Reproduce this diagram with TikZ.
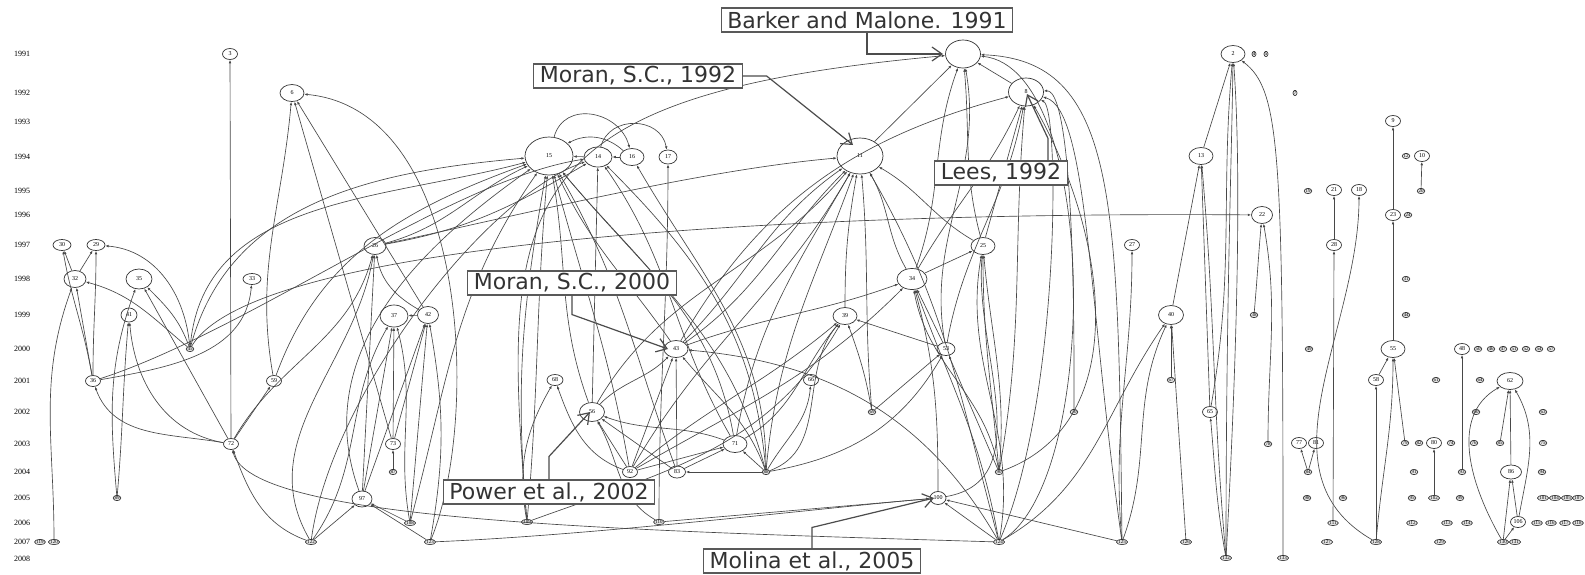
\documentclass[tikz,border=0pt]{standalone}
\usepackage{fontspec}
\setmainfont{Liberation Serif}
\newfontfamily\notefont{DejaVu Sans}
\usetikzlibrary{shapes.geometric,arrows.meta}
\tikzset{
  paper/.style={draw=black!80, ellipse, fill=white, inner sep=0pt, line width=0.7pt, font=\fontsize{6}{6}\selectfont},
  big/.style={paper, minimum width=46pt, minimum height=36pt},
  large/.style={paper, minimum width=35pt, minimum height=28pt},
  mid/.style={paper, minimum width=24pt, minimum height=17pt},
  small/.style={paper, minimum width=15pt, minimum height=11pt},
  dot/.style={draw=black!85, ellipse, fill=black!10, inner sep=0.2pt, line width=0.6pt, font=\fontsize{5}{5}\selectfont},
  yr/.style={font=\fontsize{8}{8}\selectfont},
  cite/.style={draw=black!72, line width=0.65pt, -{Latex[length=3.4pt,width=2.6pt]}},
  note/.style={draw=black!65, line width=1.1pt, fill=white, inner xsep=6pt, inner ysep=1pt, minimum height=24pt, text=black!80, font=\notefont\fontsize{22}{22}\selectfont},
  pointer/.style={draw=black!70, line width=1.2pt, -{Straight Barb[length=10pt,width=14pt]}}
}
\begin{document}
\begin{tikzpicture}[x=1pt,y=1pt]
\useasboundingbox (0,0) rectangle (1585,-574);
\fill[white] (0,0) rectangle (1585,-574);
% years
\node[yr] (y1991) at (22,-54) {1991};
\node[yr] (y1992) at (22,-93) {1992};
\node[yr] (y1993) at (22,-122) {1993};
\node[yr] (y1994) at (22,-157) {1994};
\node[yr] (y1995) at (22,-191) {1995};
\node[yr] (y1996) at (22,-215) {1996};
\node[yr] (y1997) at (22,-245) {1997};
\node[yr] (y1998) at (22,-279) {1998};
\node[yr] (y1999) at (22,-315) {1999};
\node[yr] (y2000) at (22,-349) {2000};
\node[yr] (y2001) at (22,-381) {2001};
\node[yr] (y2002) at (22,-412) {2002};
\node[yr] (y2003) at (22,-444) {2003};
\node[yr] (y2004) at (22,-472) {2004};
\node[yr] (y2005) at (22,-498) {2005};
\node[yr] (y2006) at (22,-523) {2006};
\node[yr] (y2007) at (22,-542) {2007};
\node[yr] (y2008) at (22,-559) {2008};
% papers
\node[large] (n1) at (963,-54) {};
\node[mid] (n2) at (1233,-54) {2};
\node[small] (n3) at (230,-54) {3};
\node[mid] (n6) at (292,-93) {6};
\node[large] (n8) at (1026,-92) {8};
\node[small] (n9) at (1393,-121) {9};
\node[small] (n10) at (1422,-156) {10};
\node[big] (n11) at (860,-156) {11};
\node[mid] (n13) at (1201,-156) {13};
\node[mid, minimum width=28pt, minimum height=20pt] (n14) at (598,-157) {14};
\node[big, minimum width=48pt, minimum height=38pt] (n15) at (549,-156) {15};
\node[mid] (n16) at (632,-157) {16};
\node[small, minimum width=18pt, minimum height=14pt] (n17) at (668,-157) {17};
\node[small] (n18) at (1359,-190) {18};
\node[small] (n21) at (1334,-190) {21};
\node[mid, minimum width=21pt] (n22) at (1262,-215) {22};
\node[small] (n23) at (1393,-215) {23};
\node[mid] (n25) at (983,-246) {25};
\node[mid, minimum width=22pt] (n26) at (375,-246) {26};
\node[small] (n27) at (1132,-245) {27};
\node[small] (n28) at (1334,-245) {28};
\node[small, minimum width=18pt] (n29) at (96,-245) {29};
\node[small, minimum width=18pt] (n30) at (62,-245) {30};
\node[mid, minimum width=22pt] (n32) at (75,-279) {32};
\node[small, minimum width=18pt] (n33) at (252,-279) {33};
\node[mid, minimum width=30pt, minimum height=21pt] (n34) at (912,-279) {34};
\node[mid, minimum width=26pt, minimum height=20pt] (n35) at (139,-279) {35};
\node[small] (n36) at (93,-381) {36};
\node[mid, minimum width=28pt, minimum height=22pt] (n37) at (394,-316) {37};
\node[mid] (n39) at (845,-316) {39};
\node[mid, minimum width=25pt, minimum height=19pt] (n40) at (1171,-315) {40};
\node[small, minimum width=16pt, minimum height=14pt] (n41) at (129,-315) {41};
\node[mid, minimum width=21pt] (n42) at (428,-315) {42};
\node[mid] (n43) at (676,-349) {43};
\node[small] (n48) at (1462,-349) {48};
\node[small, minimum width=18pt, minimum height=13pt] (n53) at (946,-349) {53};
\node[mid] (n55) at (1393,-349) {55};
\node[mid, minimum width=25pt, minimum height=19pt] (n56) at (592,-412) {56};
\node[small] (n58) at (1376,-380) {58};
\node[small] (n59) at (274,-381) {59};
\node[mid, minimum width=26pt] (n62) at (1510,-381) {62};
\node[small] (n65) at (1210,-412) {65};
\node[small] (n66) at (811,-380) {66};
\node[small, minimum width=16pt] (n68) at (555,-380) {68};
\node[mid] (n71) at (735,-444) {71};
\node[small] (n72) at (231,-444) {72};
\node[small] (n73) at (393,-444) {73};
\node[small] (n77) at (1299,-443) {77};
\node[small] (n80) at (1434,-443) {80};
\node[small] (n81) at (1316,-443) {81};
\node[small, minimum width=17pt, minimum height=12pt] (n83) at (677,-472) {83};
\node[mid, minimum width=21pt, minimum height=14pt] (n86) at (1511,-472) {86};
\node[small] (n92) at (630,-472) {92};
\node[mid, minimum width=20pt, minimum height=16pt] (n97) at (362,-499) {97};
\node[small, minimum width=16pt, minimum height=13pt] (n100) at (938,-498) {100};
\node[small] (n106) at (1518,-522) {106};
% small papers
\node[dot] (p4) at (1254,-54) {4};
\node[dot] (p5) at (1266,-54) {5};
\node[dot] (p7) at (1295,-93) {7};
\node[dot] (p12) at (1406,-156) {12};
\node[dot] (p19) at (1308,-191) {19};
\node[dot] (p20) at (1421,-191) {20};
\node[dot] (p24) at (1408,-215) {24};
\node[dot] (p31) at (1406,-279) {31};
\node[dot] (p38) at (1254,-315) {38};
\node[dot] (p44) at (1406,-315) {44};
\node[dot] (p45) at (190,-349) {45};
\node[dot] (p49) at (1309,-349) {49};
\node[dot] (p50) at (1478,-349) {50};
\node[dot] (p46) at (1491,-349) {46};
\node[dot] (p47) at (1503,-349) {47};
\node[dot] (p51) at (1514,-349) {51};
\node[dot] (p52) at (1526,-349) {52};
\node[dot] (p54) at (1539,-349) {54};
\node[dot] (p57) at (1551,-349) {57};
\node[dot] (p67) at (1171,-380) {67};
\node[dot] (p61) at (1436,-380) {61};
\node[dot] (p64) at (1480,-380) {64};
\node[dot] (p69) at (872,-412) {69};
\node[dot] (p70) at (1074,-412) {70};
\node[dot] (p60) at (1476,-412) {60};
\node[dot] (p63) at (1543,-412) {63};
\node[dot] (p78) at (1268,-444) {78};
\node[dot] (p79) at (1405,-443) {79};
\node[dot] (p82) at (1419,-443) {82};
\node[dot] (p74) at (1451,-443) {74};
\node[dot] (p76) at (1474,-443) {76};
\node[dot] (p85) at (1500,-443) {85};
\node[dot] (p75) at (1543,-443) {75};
\node[dot] (p87) at (393,-472) {87};
\node[dot] (p88) at (766,-472) {88};
\node[dot] (p90) at (999,-472) {90};
\node[dot] (p84) at (1308,-472) {84};
\node[dot] (p91) at (1414,-472) {91};
\node[dot] (p93) at (1462,-472) {93};
\node[dot] (p94) at (1542,-472) {94};
\node[dot] (p89) at (117,-498) {89};
\node[dot] (p98) at (1307,-498) {98};
\node[dot] (p96) at (1343,-498) {96};
\node[dot] (p95) at (1412,-498) {95};
\node[dot] (p102) at (1434,-498) {102};
\node[dot] (p99) at (1460,-498) {99};
\node[dot] (p101) at (1543,-498) {101};
\node[dot] (p104) at (1555,-498) {104};
\node[dot] (p105) at (1567,-498) {105};
\node[dot] (p107) at (1578,-498) {107};
\node[dot] (p108) at (410,-523) {108};
\node[dot] (p109) at (527,-522) {109};
\node[dot] (p110) at (659,-522) {110};
\node[dot] (p111) at (1333,-523) {111};
\node[dot] (p112) at (1412,-523) {112};
\node[dot] (p113) at (1447,-523) {113};
\node[dot] (p114) at (1467,-523) {114};
\node[dot] (p115) at (1537,-523) {115};
\node[dot] (p116) at (1551,-523) {116};
\node[dot] (p117) at (1565,-523) {117};
\node[dot] (p118) at (1578,-523) {118};
\node[dot] (p119) at (40,-542) {119};
\node[dot] (p120) at (54,-542) {120};
\node[dot] (p122) at (311,-542) {122};
\node[dot] (p123) at (430,-542) {123};
\node[dot] (p124) at (999,-542) {124};
\node[dot] (p125) at (1122,-542) {125};
\node[dot] (p126) at (1186,-542) {126};
\node[dot] (p127) at (1327,-542) {127};
\node[dot] (p128) at (1376,-542) {128};
\node[dot] (p129) at (1440,-542) {129};
\node[dot] (p130) at (1503,-542) {130};
\node[dot] (p131) at (1515,-542) {131};
\node[dot] (p132) at (1226,-558) {132};
\node[dot] (p133) at (1283,-558) {133};
% citations, left part
\draw[cite] (n72) -- (n3);
\draw[cite] (n36) to[out=100,in=-80] (n30);
\draw[cite] (n36) -- (n32);
\draw[cite] (n36) to[out=90,in=-90] (n29);
\draw[cite] (n32) -- (n30);
\draw[cite] (n32) -- (n29);
\draw[cite] (n36) to[out=10,in=-95] (n33);
\draw[cite] (n72) to[out=170,in=-70] (n36);
\draw[cite] (n72) to[out=170,in=-85] (n41);
\draw[cite] (n72) -- (n35);
\draw[cite] (n72) -- (n59);
\draw[cite] (n72) to[out=60,in=-105] (n26);
\draw[cite] (p45) to[out=110,in=-45] (n35);
\draw[cite] (p45) to[out=140,in=-15] (n32);
\draw[cite] (p45) to[out=95,in=-5] (n29);
\draw[cite] (p45) to[out=75,in=185] (n15);
\draw[cite] (p45) to[out=85,in=195] (n15);
\draw[cite] (p45) .. controls (260,-230) and (900,-212) .. (n22);
\draw[cite] (p89) to[out=85,in=-95] (n41);
\draw[cite] (p89) to[out=95,in=-110] (n35);
\draw[cite] (p120) to[out=90,in=-110] (n32);
\draw[cite] (n59) to[out=100,in=-95] (n6);
\draw[cite] (n59) to[out=70,in=200] (n15);
\draw[cite] (n73) -- (n6);
\draw[cite] (n73) -- (n37);
\draw[cite] (n73) -- (n42);
\draw[cite] (p87) -- (n73);
\draw[cite] (n42) -- (n6);
\draw[cite] (n42) to[out=150,in=-80] (n26);
\draw[cite] (n42) -- (n37);
\draw[cite] (n97) -- (n26);
\draw[cite] (n97) -- (n37);
\draw[cite] (n97) -- (n42);
\draw[cite] (n97) to[out=110,in=215] (n15);
\draw[cite] (p108) -- (n97);
\draw[cite] (p108) to[out=100,in=-75] (n37);
\draw[cite] (p108) to[out=85,in=-95] (n42);
\draw[cite] (p108) to[out=75,in=235] (n15);
\draw[cite] (p122) -- (n97);
\draw[cite] (p122) to[out=55,in=-120] (n37);
\draw[cite] (p122) to[out=160,in=-70] (n72);
\draw[cite] (p122) to[out=120,in=-100] (n26);
\draw[cite] (p122) .. controls (330,-400) and (480,-200) .. (n14);
\draw[cite] (p123) -- (n97);
\draw[cite] (p123) to[out=80,in=-80] (n42);
\draw[cite] (p123) .. controls (480,-420) and (470,-110) .. (n6);
\draw[cite] (n26) to[out=15,in=205] (n15);
\draw[cite] (n26) to[out=10,in=210] (n14);
\draw[cite] (n26) .. controls (520,-215) and (700,-170) .. (n11);
\draw[cite] (n36) .. controls (250,-330) and (450,-180) .. (n14);
% citations, centre
\draw[cite] (p109) .. controls (500,-200) and (510,-95) .. (n1);
\draw[cite] (p109) to[out=95,in=-100] (n15);
\draw[cite] (p109) to[out=85,in=-95] (n15);
\draw[cite] (p109) to[out=100,in=-120] (n68);
\draw[cite] (p109) to[out=20,in=-120] (n39);
\draw[cite] (p110) to[out=90,in=-90] (n17);
\draw[cite] (p110) -- (n100);
\draw[cite] (p110) to[out=150,in=-60] (n56);
\draw[cite] (n56) -- (n14);
\draw[cite] (n56) to[out=110,in=-80] (n15);
\draw[cite] (n56) to[out=45,in=-135] (n43);
\draw[cite] (n56) to[out=60,in=-130] (n11);
\draw[cite] (n92) -- (n56);
\draw[cite] (n83) -- (n56);
\draw[cite] (n92) -- (n43);
\draw[cite] (n83) -- (n43);
\draw[cite] (n92) -- (n71);
\draw[cite] (n83) -- (n71);
\draw[cite] (n92) to[out=100,in=-75] (n15);
\draw[cite] (n83) to[out=110,in=-60] (n15);
\draw[cite] (n92) to[out=30,in=-135] (n34);
\draw[cite] (n92) to[out=40,in=-140] (n39);
\draw[cite] (n92) to[out=60,in=-120] (n11);
\draw[cite] (n92) to[out=160,in=-70] (n68);
\draw[cite] (p88) -- (n83);
\draw[cite] (p88) -- (n71);
\draw[cite] (p88) to[out=60,in=-95] (n66);
\draw[cite] (p88) to[out=110,in=-50] (n43);
\draw[cite] (p88) to[out=95,in=-45] (n14);
\draw[cite] (p88) to[out=105,in=-50] (n15);
\draw[cite] (p88) to[out=90,in=-60] (n16);
\draw[cite] (p88) to[out=85,in=-110] (n11);
\draw[cite] (p88) to[out=20,in=-130] (n39);
\draw[cite] (p88) to[out=10,in=-120] (n53);
\draw[cite] (n71) to[out=160,in=-20] (n56);
\draw[cite] (n71) to[out=80,in=-120] (n11);
\draw[cite] (n71) to[out=120,in=-55] (n14);
\draw[cite] (n71) to[out=100,in=-50] (n15);
\draw[cite] (n71) to[out=30,in=-130] (n39);
\draw[cite] (n43) to[out=45,in=215] (n11);
\draw[cite] (n43) to[out=35,in=225] (n11);
\draw[cite] (n43) to[out=125,in=-65] (n15);
\draw[cite] (n43) to[out=60,in=195] (n8);
\draw[cite] (n43) to[out=20,in=-160] (n34);
\draw[cite] (n15) to[out=75,in=105,looseness=1.3] (n16);
\draw[cite] (n14) to[out=75,in=100,looseness=1.3] (n17);
\draw[cite] (n16) to[bend right=35] (n15);
\draw[cite] (n16) -- (n14);
\draw[cite] (n14) -- (n15);
\draw[cite] (n11) -- (n1);
\draw[cite] (n39) to[out=90,in=-100] (n11);
\draw[cite] (p69) to[out=95,in=-85] (n11);
\draw[cite] (p69) to[out=100,in=-70] (n39);
\draw[cite] (p69) -- (n53);
\draw[cite] (n53) -- (n39);
\draw[cite] (n53) -- (n34);
\draw[cite] (n53) to[out=100,in=-80] (n1);
\draw[cite] (n53) to[out=80,in=-100] (n8);
\draw[cite] (n34) -- (n25);
\draw[cite] (n34) to[out=120,in=-60] (n11);
\draw[cite] (n34) to[out=70,in=-110] (n1);
\draw[cite] (n34) to[out=60,in=-115] (n8);
\draw[cite] (n25) -- (n8);
\draw[cite] (n25) to[out=105,in=-85] (n1);
\draw[cite] (n25) to[out=150,in=-30] (n11);
\draw[cite] (n8) -- (n1);
\draw[cite] (p90) -- (n53);
\draw[cite] (p90) to[out=95,in=-90] (n25);
\draw[cite] (p90) to[out=85,in=-85] (n25);
\draw[cite] (p90) to[out=100,in=-80] (n34);
\draw[cite] (p90) to[out=80,in=-95] (n8);
\draw[cite] (p90) to[out=20,in=-60] (n8);
\draw[cite] (n100) to[out=90,in=-75] (n34);
\draw[cite] (n100) to[out=10,in=-95] (n25);
\draw[cite] (p124) -- (n100);
\draw[cite] (p124) .. controls (600,-530) and (250,-520) .. (n72);
\draw[cite] (p124) to[out=120,in=-5] (n43);
\draw[cite] (p124) to[out=105,in=-60] (n11);
\draw[cite] (p124) to[out=100,in=-70] (n34);
\draw[cite] (p124) to[out=80,in=-100] (n25);
\draw[cite] (p124) .. controls (1100,-480) and (1100,-70) .. (n1);
\draw[cite] (p124) .. controls (1060,-400) and (1060,-110) .. (n8);
\draw[cite] (p125) .. controls (1118,-200) and (1118,-60) .. (n1);
\draw[cite] (p125) .. controls (1088,-300) and (1088,-110) .. (n8);
\draw[cite] (p125) to[out=95,in=-90] (n27);
\draw[cite] (p125) -- (n100);
\draw[cite] (p125) to[out=70,in=-115] (n40);
\draw[cite] (p124) to[out=30,in=-125] (n40);
\draw[cite] (p70) .. controls (1075,-150) and (1060,-90) .. (n8);
\draw[cite] (p123) .. controls (600,-535) and (850,-505) .. (n100);
% citations, right part
\draw[cite] (p126) -- (n40);
\draw[cite] (p67) -- (n40);
\draw[cite] (n40) -- (n13);
\draw[cite] (n65) -- (n13);
\draw[cite] (n65) to[out=80,in=-95] (n2);
\draw[cite] (p132) to[out=100,in=-85] (n65);
\draw[cite] (p132) to[out=95,in=-85] (n13);
\draw[cite] (p132) .. controls (1226,-300) and (1232,-150) .. (n2);
\draw[cite] (p132) .. controls (1240,-300) and (1240,-150) .. (n2);
\draw[cite] (n13) -- (n2);
\draw[cite] (p133) .. controls (1283,-150) and (1280,-90) .. (n2);
\draw[cite] (p38) to[out=85,in=-95] (n22);
\draw[cite] (p78) to[out=90,in=-80] (n22);
\draw[cite] (n28) -- (n21);
\draw[cite] (p111) -- (n28);
\draw[cite] (p128) -- (n58);
\draw[cite] (p128) to[out=85,in=-90] (n55);
\draw[cite] (p128) to[out=150,in=-90] (n18);
\draw[cite] (n58) -- (n55);
\draw[cite] (p79) -- (n55);
\draw[cite] (n55) -- (n23);
\draw[cite] (n23) -- (n9);
\draw[cite] (p20) -- (n10);
\draw[cite] (p84) -- (n77);
\draw[cite] (p84) -- (n81);
\draw[cite] (p102) -- (n80);
\draw[cite] (p93) -- (n48);
\draw[cite] (n86) -- (n62);
\draw[cite] (n106) -- (n86);
\draw[cite] (n106) to[out=80,in=-60] (n62);
\draw[cite] (p130) to[out=120,in=-150] (n62);
\draw[cite] (p130) -- (n86);
\draw[cite] (p130) -- (n106);
\draw[cite] (p85) -- (n62);
% call-outs
\node[note] (barker) at (867,-20) {Barker and Malone. 1991};
\node[note] (moran92) at (638,-76) {Moran, S.C., 1992};
\node[note] (lees) at (1001,-173) {Lees, 1992};
\node[note] (moran00) at (572,-283) {Moran, S.C., 2000};
\node[note] (power) at (549,-492) {Power et al., 2002};
\node[note] (molina) at (812,-561) {Molina et al., 2005};
\draw[pointer] (barker.south) |- ([xshift=-20pt]n1.center);
\draw[pointer] (moran92.east) -- ++(24,0) -- ([shift={(-7,11)}]n11.center);
\draw[pointer] ([xshift=47pt]lees.north) -- ++(0,22) -- ([shift={(1,-2)}]n8.center);
\draw[pointer] (moran00.south) -- ++(0,-19) -- ([xshift=-8pt]n43.center);
\draw[pointer] (power.north) -- ++(0,23) -- ([xshift=-2pt]n56.center);
\draw[pointer] (molina.north) -- ++(0,21) -- ([xshift=-4pt]n100.center);
\end{tikzpicture}
\end{document}
